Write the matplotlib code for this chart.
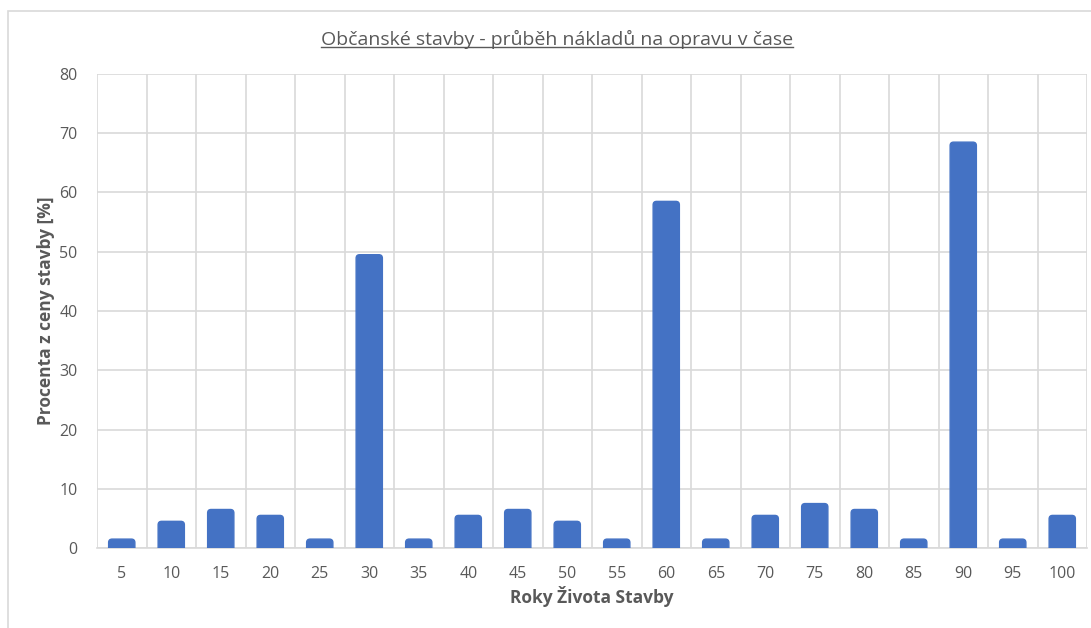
import matplotlib.pyplot as plt
from matplotlib.lines import Line2D
from matplotlib.patches import Rectangle, FancyBboxPatch

years = ['5', '10', '15', '20', '25', '30', '35', '40', '45', '50',
         '55', '60', '65', '70', '75', '80', '85', '90', '95', '100']
costs = [1.5, 4.5, 6.5, 5.5, 1.5, 49.5, 1.5, 5.5, 6.5, 4.5,
         1.5, 58.5, 1.5, 5.5, 7.5, 6.5, 1.5, 68.5, 1.5, 5.5]

plt.rcParams['font.family'] = ['Open Sans', 'DejaVu Sans']
text_color = '#595959'
grid_color = '#d9d9d9'
bar_color = '#4472c4'

fig = plt.figure(figsize=(10.91, 6.28), dpi=100)
fig.patches.append(Rectangle((8 / 1091, -0.01), 1.0, 1 - 11 / 628 + 0.01, transform=fig.transFigure,
                             fill=False, edgecolor=grid_color, linewidth=1.2))
ax = fig.add_axes([97 / 1091, 1 - 548 / 628, 990 / 1091, 474 / 628])

x = list(range(len(years)))
bars = ax.bar(x, costs, width=0.53, color=bar_color, zorder=3)

ax.set_xlim(-0.5, len(years) - 0.5)
ax.set_ylim(0, 80)

# rounded tops like the spreadsheet bars
aspect = (80 / 474) / (len(years) / 990)
for rect in bars:
    rect.set_visible(False)
    rx, w, h = rect.get_x(), rect.get_width(), rect.get_height()
    r = 0.07
    ax.add_patch(FancyBboxPatch((rx, -r * aspect), w, h + r * aspect,
                                boxstyle=f'round,pad=0,rounding_size={r}',
                                mutation_aspect=aspect, color=bar_color,
                                zorder=3, clip_on=True))

ax.set_yticks(range(0, 81, 10))
ax.set_xticks(x)
ax.set_xticklabels(years)
ax.set_xticks([i + 0.5 for i in range(-1, len(years))], minor=True)
ax.grid(axis='y', which='major', color=grid_color, linewidth=1.2, zorder=0)
ax.grid(axis='x', which='minor', color=grid_color, linewidth=1.2, zorder=0)
ax.grid(axis='x', which='major', visible=False)
ax.tick_params(axis='both', which='both', length=0, labelsize=11.5, labelcolor=text_color)
ax.tick_params(axis='y', pad=14)
ax.tick_params(axis='x', pad=13)
for side in ['top', 'right', 'left']:
    ax.spines[side].set_visible(False)
ax.spines['bottom'].set_color(grid_color)
ax.spines['bottom'].set_linewidth(1.2)

ax.set_ylabel('Procenta z ceny stavby [%]', fontsize=12.5, fontweight='bold', color=text_color, labelpad=3)
ax.set_xlabel('Roky Života Stavby', fontsize=12.5, fontweight='bold', color=text_color, labelpad=3)

title = fig.text(557 / 1091, 1 - 39 / 628, 'Občanské stavby - průběh nákladů na opravu v čase',
                 ha='center', va='center', fontsize=14, color=text_color)

# underline the title
fig.canvas.draw()
bb = title.get_window_extent().transformed(fig.transFigure.inverted())
fig.add_artist(Line2D([bb.x0, bb.x1], [bb.y0 + 0.003, bb.y0 + 0.003], transform=fig.transFigure,
                      color=text_color, linewidth=1))

fig.savefig('out.png', dpi=100)
